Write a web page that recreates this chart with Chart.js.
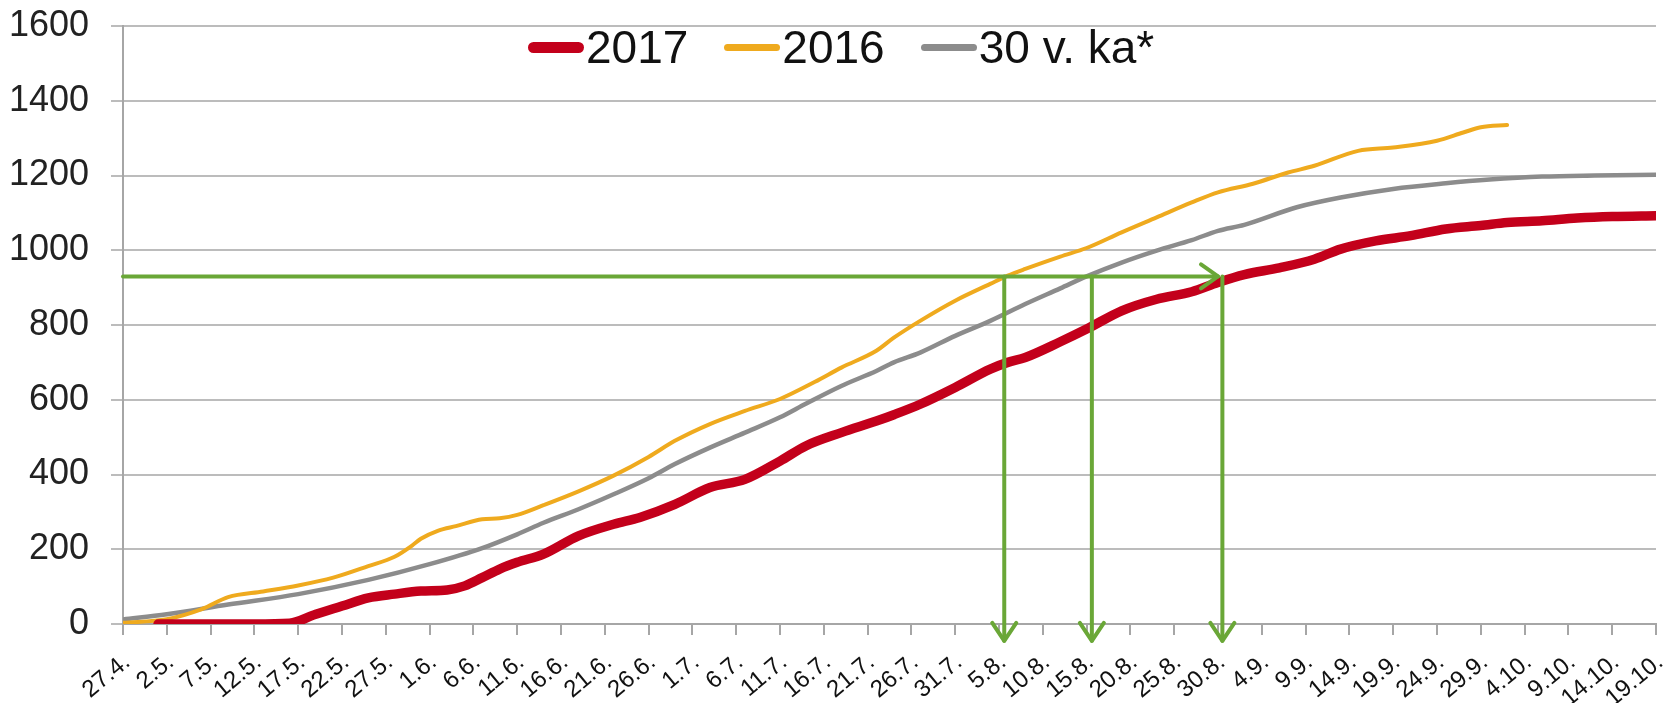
<!DOCTYPE html>
<html>
<head>
<meta charset="utf-8">
<script src="https://cdn.jsdelivr.net/npm/chart.js@4.4.1/dist/chart.umd.min.js"></script>
<style>
  html, body { margin: 0; padding: 0; background: #fff; }
  #wrap { position: relative; width: 1666px; height: 703px; }
  #legend { position: absolute; top: 20px; left: 528px; display: flex; align-items: center;
            font-family: "Liberation Sans", Arial, sans-serif; font-size: 46px; color: #111; }
  #legend .item { display: flex; align-items: center; margin-right: 36px; }
  #legend .mark { display: inline-block; width: 56px; border-radius: 6px; margin-right: 2px; }
</style>
</head>
<body>
<div id="wrap">
  <canvas id="chart" width="1666" height="703"></canvas>
  <div id="legend"></div>
</div>
<script>
// x axis: day index counted from 27.4., one label every 5 days
const dateLabels = ['27.4.', '2.5.', '7.5.', '12.5.', '17.5.', '22.5.', '27.5.', '1.6.', '6.6.', '11.6.',
  '16.6.', '21.6.', '26.6.', '1.7.', '6.7.', '11.7.', '16.7.', '21.7.', '26.7.', '31.7.', '5.8.', '10.8.',
  '15.8.', '20.8.', '25.8.', '30.8.', '4.9.', '9.9.', '14.9.', '19.9.', '24.9.', '29.9.', '4.10.', '9.10.',
  '14.10.', '19.10.'];
const yTicks = [0, 200, 400, 600, 800, 1000, 1200, 1400, 1600];

const seriesNames = ['2017', '2016', '30 v. ka*'];
const seriesColors = ['#c3001b', '#efaa1e', '#8c8c8c'];
const seriesWidths = [9.5, 4, 4.5];

// 2017
const days2017 = [4, 10, 15, 19, 22, 25, 28, 31, 34, 37, 39, 41, 43, 45, 48, 52, 56, 59, 63, 67, 71, 75, 78, 82,
  86, 88, 91, 95, 99, 101, 103, 107, 110, 114, 118, 122, 125, 128, 132, 136, 139, 143, 147, 151, 155, 158, 162,
  166, 170, 175];
const values2017 = [0, 0, 0, 2, 26, 48, 70, 80, 88, 91, 102, 124, 147, 165, 187, 236, 267, 285, 320, 365, 387,
  436, 477, 512, 543, 560, 588, 633, 682, 700, 713, 755, 789, 838, 869, 889, 914, 935, 953, 976, 1003, 1025,
  1039, 1057, 1066, 1074, 1079, 1086, 1090, 1092];

// 2016
const days2016 = [0, 5, 9, 12, 16, 20, 24, 28, 31, 33, 34, 36, 38, 41, 43, 45, 48, 52, 56, 60, 63, 67, 71, 75, 79,
  82, 86, 88, 91, 95, 99, 101, 103, 107, 110, 114, 118, 122, 125, 129, 133, 136, 141, 145, 150, 153, 155, 158];
const values2016 = [3, 13, 40, 72, 87, 103, 124, 155, 180, 210, 228, 250, 262, 280, 283, 292, 318, 355, 397, 447,
  490, 535, 570, 602, 648, 686, 731, 766, 811, 865, 910, 932, 950, 983, 1006, 1048, 1088, 1128, 1155, 1178,
  1208, 1226, 1266, 1275, 1293, 1315, 1329, 1335];

// 30-year average
const daysAvg = [0, 5, 12, 20, 28, 35, 41, 45, 48, 52, 56, 60, 63, 67, 71, 75, 78, 82, 86, 88, 91, 95, 99, 103,
  107, 110, 114, 118, 122, 125, 128, 134, 139, 145, 151, 156, 162, 168, 175];
const valuesAvg = [12, 26, 52, 80, 118, 160, 203, 240, 271, 307, 347, 390, 428, 472, 512, 553, 590, 637, 677,
  700, 726, 771, 811, 856, 898, 930, 967, 999, 1027, 1052, 1068, 1115, 1141, 1164, 1179, 1189, 1197, 1200, 1202];

// green arrows (in data units)
const arrowLevel = 930;
const arrowEndDay = 125;
const dropDays = [100.6, 110.6, 125.5];
const dropBottom = -45;
const arrowColor = '#6aa737';

function toPoints(days, vals) {
  return days.map((d, i) => ({ x: d, y: vals[i] }));
}

const seriesData = [toPoints(days2017, values2017), toPoints(days2016, values2016), toPoints(daysAvg, valuesAvg)];

// legend as html
const legendEl = document.getElementById('legend');
seriesNames.forEach((name, i) => {
  const item = document.createElement('span');
  item.className = 'item';
  const mark = document.createElement('span');
  mark.className = 'mark';
  mark.style.background = seriesColors[i];
  mark.style.height = (i === 0 ? 11 : 7) + 'px';
  item.appendChild(mark);
  item.appendChild(document.createTextNode(name));
  legendEl.appendChild(item);
});

function drawHead(ctx, x, y, dir) {
  // open chevron head, dir 'right' or 'down'
  ctx.beginPath();
  if (dir === 'right') {
    ctx.moveTo(x - 17, y - 12);
    ctx.lineTo(x, y);
    ctx.lineTo(x - 17, y + 12);
  } else {
    ctx.moveTo(x - 12, y - 18);
    ctx.lineTo(x, y);
    ctx.lineTo(x + 12, y - 18);
  }
  ctx.stroke();
}

const arrowPlugin = {
  id: 'arrows',
  afterDatasetsDraw(chart) {
    const { ctx, scales: { x, y } } = chart;
    ctx.save();
    ctx.strokeStyle = arrowColor;
    ctx.lineWidth = 4;
    ctx.lineCap = 'round';
    ctx.lineJoin = 'round';
    const yl = y.getPixelForValue(arrowLevel);
    ctx.beginPath();
    ctx.moveTo(x.getPixelForValue(0), yl);
    ctx.lineTo(x.getPixelForValue(arrowEndDay), yl);
    ctx.stroke();
    drawHead(ctx, x.getPixelForValue(arrowEndDay), yl, 'right');
    const yb = y.getPixelForValue(dropBottom);
    dropDays.forEach(d => {
      const xp = x.getPixelForValue(d);
      ctx.beginPath();
      ctx.moveTo(xp, yl);
      ctx.lineTo(xp, yb);
      ctx.stroke();
      drawHead(ctx, xp, yb, 'down');
    });
    ctx.restore();
  }
};

const ctx = document.getElementById('chart').getContext('2d');
new Chart(ctx, {
  type: 'line',
  data: {
    datasets: seriesNames.map((name, i) => ({
      label: name,
      data: seriesData[i],
      borderColor: seriesColors[i],
      borderWidth: seriesWidths[i],
      borderCapStyle: 'round',
      borderJoinStyle: 'round',
      pointRadius: 0,
      cubicInterpolationMode: 'monotone',
      fill: false
    }))
  },
  options: {
    responsive: false,
    animation: false,
    layout: { padding: { top: 26, right: 10, bottom: 0, left: 0 } },
    plugins: { legend: { display: false }, tooltip: { enabled: false } },
    scales: {
      x: {
        type: 'linear',
        min: 0,
        max: 175,
        afterBuildTicks: axis => { axis.ticks = dateLabels.map((l, i) => ({ value: i * 5 })); },
        afterFit: axis => { axis.height = 79; axis.paddingLeft = 0; axis.paddingRight = 0; },
        ticks: {
          autoSkip: false,
          maxRotation: 40,
          minRotation: 40,
          padding: 13,
          labelOffset: 4,
          color: '#111',
          font: { family: '"Liberation Sans", Arial, sans-serif', size: 24 },
          callback: v => dateLabels[Math.round(v / 5)]
        },
        grid: { drawOnChartArea: false, drawTicks: true, tickLength: 11, color: '#a6a6a6', lineWidth: 2 },
        border: { display: true, color: '#a6a6a6', width: 2 }
      },
      y: {
        min: 0,
        max: 1600,
        afterBuildTicks: axis => { axis.ticks = yTicks.map(v => ({ value: v })); },
        afterFit: axis => { axis.width = 123; axis.paddingTop = 0; axis.paddingBottom = 0; },
        ticks: {
          padding: 22,
          color: '#222',
          font: { family: '"Liberation Sans", Arial, sans-serif', size: 36 },
          callback: v => String(v)
        },
        grid: { color: '#bcbcbc', lineWidth: 2, tickLength: 12 },
        border: { display: true, color: '#a6a6a6', width: 2 }
      }
    }
  },
  plugins: [arrowPlugin]
});
</script>
</body>
</html>
